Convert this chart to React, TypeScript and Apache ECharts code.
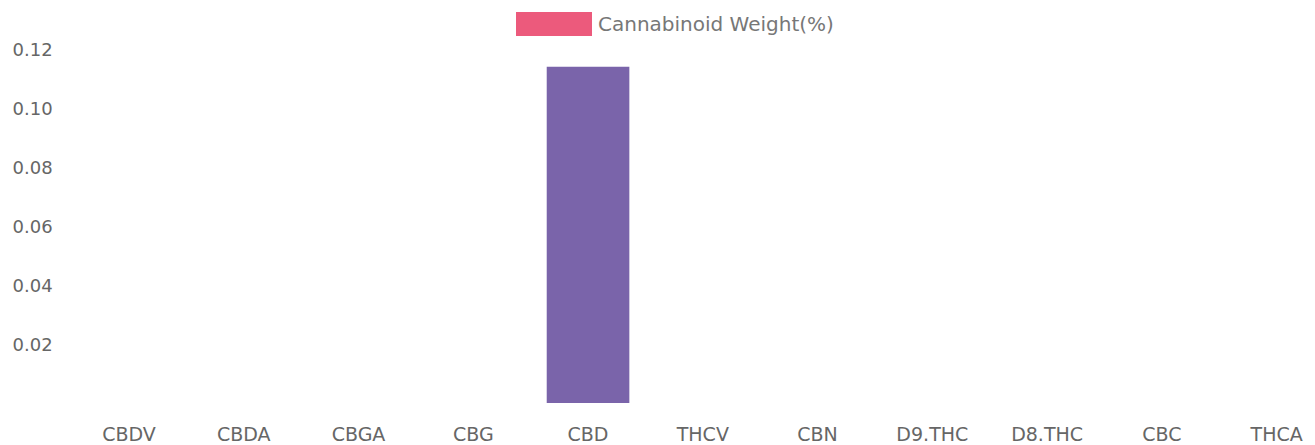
import React, { useEffect, useRef } from "react";
import * as echarts from "echarts";

const categories = ["CBDV", "CBDA", "CBGA", "CBG", "CBD", "THCV", "CBN", "D9.THC", "D8.THC", "CBC", "THCA"];
const weights = [0, 0, 0, 0, 0.114, 0, 0, 0, 0, 0, 0];
const barColors = ["#ec5a7c", "#3d9fe0", "#f5cc50", "#4bbfbf", "#7a64aa", "#f59e45", "#c9cbcf", "#ec5a7c", "#3d9fe0", "#f5cc50", "#4bbfbf"];
const seriesName = "Cannabinoid Weight(%)";

export default function App() {
  const ref = useRef<HTMLDivElement>(null);
  useEffect(() => {
    if (!ref.current) return;
    const chart = echarts.init(ref.current, undefined, { renderer: "svg" });
    const font = "'DejaVu Sans', sans-serif";
    chart.setOption({
      animation: false,
      legend: {
        top: 7,
        left: 511,
        itemWidth: 76,
        itemHeight: 24,
        icon: "rect",
        data: [{ name: seriesName, itemStyle: { color: "#ec5a7c" } }],
        textStyle: { color: "#777", fontSize: 20, fontFamily: font, padding: [0, 0, 0, 1] },
      },
      grid: { left: 71.6, right: 0, top: 49, bottom: 42, containLabel: false },
      xAxis: {
        type: "category",
        data: categories,
        axisLine: { show: false },
        axisTick: { show: false },
        splitLine: { show: false },
        axisLabel: { color: "#666", fontSize: 19, fontFamily: font, margin: 21, interval: 0 },
      },
      yAxis: {
        type: "value",
        min: 0,
        max: 0.12,
        interval: 0.02,
        axisLine: { show: false },
        axisTick: { show: false },
        splitLine: { show: false },
        axisLabel: {
          color: "#666",
          fontSize: 18,
          fontFamily: font,
          margin: 19,
          formatter: (v: number) => (v === 0 ? "" : v.toFixed(2)),
        },
      },
      series: [
        {
          name: seriesName,
          type: "bar",
          barWidth: "72%",
          itemStyle: { color: "#ec5a7c" },
          data: weights.map((v, i) => ({ value: v, itemStyle: { color: barColors[i] } })),
        },
      ],
    });
    return () => chart.dispose();
  }, []);
  return (
    <div style={{ position: "absolute", left: 0, top: 0, width: 1315, height: 445, overflow: "hidden" }}>
      <div ref={ref} style={{ position: "absolute", left: 0, top: 0, width: 1334, height: 445 }} />
    </div>
  );
}
